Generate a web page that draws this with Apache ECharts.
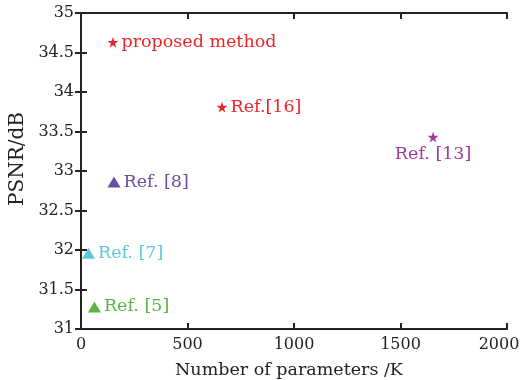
<!DOCTYPE html>
<html><head><meta charset="utf-8">
<script src="https://cdn.jsdelivr.net/npm/echarts@6/dist/echarts.min.js"></script>
<style>html,body{margin:0;padding:0;background:#fff}#c{width:523px;height:380px}</style>
</head><body><div id="c"></div>
<script>
const names = ["proposed method", "Ref.[16]", "Ref. [13]", "Ref. [8]", "Ref. [7]", "Ref. [5]"];
const params = [150, 662, 1653, 155, 35, 63];
const psnr = [34.63, 33.81, 33.43, 32.86, 31.96, 31.28];
const symbols = ["star", "star", "star", "triangle", "triangle", "triangle"];
const colors = ["#e8262a", "#e8262a", "#a2399c", "#6a4ea3", "#5cc8de", "#58b646"];
const xTicks = [0, 500, 1000, 1500, 2000];
const yTicks = [31, 31.5, 32, 32.5, 33, 33.5, 34, 34.5, 35];

const font = "DejaVu Serif";
const fs = 16;
const starPath = "path://M50,0 L61,35 L98,35 L68,57 L79,91 L50,70 L21,91 L32,57 L2,35 L39,35 Z";
const labelPos = ["right", "right", "bottom", "right", "right", "right"];
const series = names.map((n, i) => ({
  type: "scatter",
  name: n,
  data: [[params[i], psnr[i]]],
  symbol: symbols[i] === "star" ? starPath : "triangle",
  symbolSize: symbols[i] === "star" ? 11 : [13, 11],
  itemStyle: { color: colors[i], opacity: 1 },
  label: {
    show: true,
    formatter: n,
    position: labelPos[i],
    distance: 3,
    color: colors[i],
    fontFamily: font,
    fontSize: 17.5
  }
}));
const axisCommon = {
  axisLine: { lineStyle: { color: "#222", width: 2 } },
  axisTick: { inside: true, length: 6, lineStyle: { color: "#222", width: 2 } },
  splitLine: { show: false }
};
const xMax = xTicks[xTicks.length - 1];
const chart = echarts.init(document.getElementById("c"));
chart.setOption({
  animation: false,
  grid: { left: 81, right: 16, top: 13, bottom: 51, containLabel: false, outerBoundsMode: "none" },
  xAxis: [
    Object.assign({
      type: "value", min: xTicks[0], max: xMax, interval: 500,
      name: "Number of parameters /K", nameLocation: "middle", nameGap: 32,
      nameTextStyle: { fontFamily: font, fontSize: 17.5, color: "#222", padding: [0, 10, 0, 0] },
      axisLabel: { fontFamily: font, fontSize: fs, color: "#222", margin: 8,
        formatter: v => v === xMax ? "{r|" + v + "}" : String(v),
        rich: { r: { fontFamily: font, fontSize: fs, color: "#222", padding: [0, 16, 0, 0] } } }
    }, axisCommon),
    Object.assign({
      type: "value", min: xTicks[0], max: xMax, interval: 500, position: "top",
      axisLabel: { show: false }
    }, axisCommon)
  ],
  yAxis: [
    Object.assign({
      type: "value", min: yTicks[0], max: yTicks[yTicks.length - 1], interval: 0.5,
      name: "PSNR/dB", nameLocation: "middle", nameGap: 53,
      nameTextStyle: { fontFamily: font, fontSize: 20, color: "#222", padding: [0, 0, 0, 24] },
      axisLabel: { fontFamily: font, fontSize: fs, color: "#222", margin: 7,
        formatter: v => String(v) }
    }, axisCommon),
    Object.assign({
      type: "value", min: yTicks[0], max: yTicks[yTicks.length - 1], interval: 0.5, position: "right",
      axisLabel: { show: false }
    }, axisCommon)
  ],
  series: series
});
</script></body></html>
